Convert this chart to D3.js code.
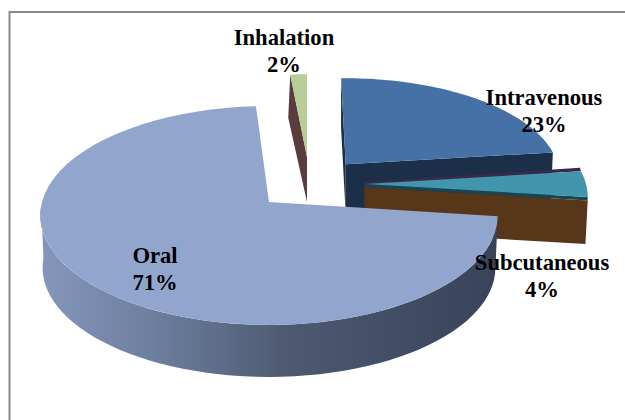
<!DOCTYPE html>
<html>
<head>
<meta charset="utf-8">
<style>
    html, body { margin: 0; padding: 0; background: #fff; }
    svg { display: block; }
    .sliceLabel { font-family: "Liberation Serif", serif; font-weight: bold; font-size: 22.6px; fill: #000; text-anchor: middle; }
</style>
<script src="https://cdn.jsdelivr.net/npm/d3@7"></script>
</head>
<body>
<script>
(function(){

    //chart data, clockwise from 12 o'clock
    var categories = ["Intravenous", "Subcutaneous", "Oral", "Inhalation"];
    var percents = [23, 4, 71, 2];

    //frame dimensions
    var width = 625,
        height = 420;

    var svg = d3.select("body")
        .append("svg")
        .attr("width", width)
        .attr("height", height);

    //angles come from the pie layout, in radians from 12 o'clock
    var pie = d3.pie().sort(null);
    var arcs = pie(percents);

    //per slice look of the exploded 3d pie
    //cx,cy = centre of top face, a,b = radii, depth = drop of the wall, d0,d1 = angle nudge in degrees
    var persp = 0.123;
    var looks = {
        Intravenous: {cx: 345.7, cy: 164.3, a: 212, b: 96.6, depth: 50, d0: -1.4, d1: 0, top: "#4571a7", wall: "#1b2f48"},
        Subcutaneous: {cx: 365, cy: 184, a: 221, b: 103, depth: 47, d0: 0, d1: 0, top: "#4195ad", wall: "#58361a", edge: "#1c4450", back: "#3a2a48"},
        Oral: {cx: 269, cy: 202, a: 227, b: 107.8, depth: 52, d0: 0.3, d1: 3.5, top: "#92a6cd", wall: "url(#oralWall)"},
        Inhalation: {cx: 307, cy: 157, a: 150, b: 93, depth: 45, d0: 0, d1: 0, top: "#b9cd96", wall: "#5a3c3c"}
    };

    //label placement
    var labelPos = {
        Intravenous: [544, 105],
        Subcutaneous: [542, 270],
        Oral: [155, 263],
        Inhalation: [284, 45]
    };

    //gradient along the long curved wall of the oral slice
    var grad = svg.append("defs")
        .append("linearGradient")
        .attr("id", "oralWall")
        .attr("gradientUnits", "userSpaceOnUse")
        .attr("x1", 40).attr("x2", 496).attr("y1", 0).attr("y2", 0);
    grad.selectAll("stop")
        .data([[0, "#8497bb"], [0.25, "#6d7f9e"], [0.55, "#4c5970"], [1, "#39435a"]])
        .enter()
        .append("stop")
        .attr("offset", function(d){ return d[0]; })
        .attr("stop-color", function(d){ return d[1]; });

    var line = d3.line();

    //point on the rim of a slice, with the perspective of the tilted disc
    function rim(look, ang, drop){
        var w = 1 + persp * Math.cos(ang);
        var shrink = drop ? 0.99 : 1;
        return [
            look.cx + look.a * shrink * Math.sin(ang) / w,
            look.cy + (drop || 0) - look.b * Math.cos(ang) / w
        ];
    }

    function sweep(look, a0, a1, drop){
        var n = 60;
        return d3.range(n + 1).map(function(i){
            return rim(look, a0 + (a1 - a0) * i / n, drop);
        });
    }

    function rad(deg){ return deg * Math.PI / 180; }

    function addPath(points, fill){
        return svg.append("path")
            .attr("d", line(points) + "Z")
            .style("fill", fill);
    }

    //draw a slice, back pieces first
    function drawSlice(i){
        var name = categories[i],
            look = looks[name],
            a0 = arcs[i].startAngle + rad(look.d0),
            a1 = arcs[i].endAngle + rad(look.d1),
            apex = [look.cx, look.cy],
            apexLow = [look.cx, look.cy + look.depth],
            top = sweep(look, a0, a1);

        if (name == "Intravenous"){
            //inner face at the left edge, then the cut face along the bottom
            var s = rim(look, a0), e = rim(look, a1), eLow = rim(look, a1, look.depth);
            addPath([s, apex, apexLow, [s[0], s[1] + look.depth]], look.wall);
            addPath([apex, e, eLow, apexLow], look.wall);
        }
        if (name == "Subcutaneous"){
            var s2 = rim(look, a0), e2 = rim(look, a1), e2Low = rim(look, a1, look.depth);
            //thin back face, showing above the top
            addPath([[apex[0], apex[1] - 2], [s2[0] - 1, s2[1] - 3.5], s2, apex], look.back);
            //front cut face and its dark upper edge
            addPath([[apex[0] - 1, apex[1] + 3], [e2[0], e2[1] + 3.4], e2Low, apexLow], look.wall);
            addPath([apex, e2, [e2[0], e2[1] + 3.4], [apex[0] - 1, apex[1] + 3]], look.edge);
        }
        if (name == "Oral"){
            //outer wall from the cut round the front to the far left
            var front = sweep(look, a0, rad(268));
            var low = sweep(look, a0, rad(268), look.depth).reverse();
            addPath(front.concat(low), look.wall);
        }
        if (name == "Inhalation"){
            var s3 = rim(look, a0);
            addPath([s3, apex, apexLow, [s3[0] - 2, s3[1] + look.depth - 2]], look.wall);
        }

        addPath([apex].concat(top), look.top);
    }

    //painter's order: far slices first, oral in front
    drawSlice(0);
    drawSlice(3);
    drawSlice(1);
    drawSlice(2);

    //chart border, left and top sides only reach the picture
    svg.append("path")
        .attr("d", "M9.5,420V12H625")
        .style("fill", "none")
        .style("stroke", "#8a8a8a")
        .style("stroke-width", 2);

    //labels
    categories.forEach(function(name, i){
        var p = labelPos[name];
        var label = svg.append("text")
            .attr("class", "sliceLabel")
            .attr("x", p[0])
            .attr("y", p[1]);
        label.append("tspan").text(name);
        label.append("tspan")
            .attr("x", p[0])
            .attr("dy", 26.5)
            .text(percents[i] + "%");
    });

})();
</script>
</body>
</html>
